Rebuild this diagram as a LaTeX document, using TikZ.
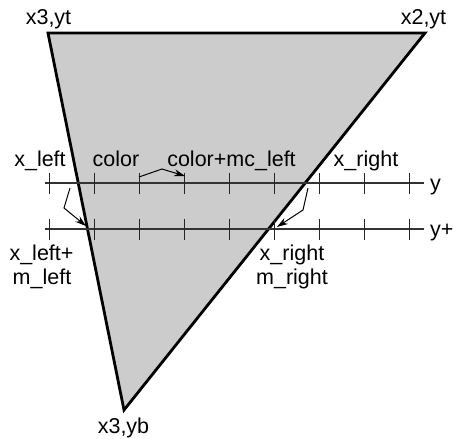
\documentclass[tikz,border=0pt]{standalone}
\usepackage{fontspec}
\setmainfont{Liberation Sans}
\usetikzlibrary{arrows.meta}
\begin{document}
\begin{tikzpicture}[x=1pt,y=-1pt,
  lbl/.style={inner sep=0pt,anchor=base,font=\fontsize{21.5}{24}\selectfont},
  axis/.style={line width=1.3pt,draw=black!80},
  tick/.style={line width=1pt,draw=black!85},
  tri/.style={line width=2.8pt,fill=black!20,line join=miter},
  arr/.style={line width=1pt,-{Stealth[length=11pt,width=7pt]}}]
\useasboundingbox (0,0) rectangle (453,439);
% triangle
\coordinate (tl) at (48,33);
\coordinate (tr) at (425,33);
\coordinate (bt) at (124,410);
\draw[tri] (tl) -- (tr) -- (bt) -- cycle;
% axes
\coordinate (ya) at (45,183);
\coordinate (yb) at (424,183);
\coordinate (pa) at (45,229);
\coordinate (pb) at (424,229);
\draw[axis] (ya) -- (yb);
\draw[axis] (pa) -- (pb);
\foreach \i in {0,...,8}{
  \draw[tick] ({49+45.1*\i},172.5) -- ({49+45.1*\i},193.5);
  \draw[tick] ({49+45.1*\i},218.5) -- ({49+45.1*\i},239.5);
}
% labels
\node[lbl] (l3t) at (48.5,24) {x3,yt};
\node[lbl] (l2t) at (423.5,24) {x2,yt};
\node[lbl] (l3b) at (123.5,433) {x3,yb};
\node[lbl] (lxl) at (40,166) {x\_left};
\node[lbl] (lc) at (116,166) {color};
\node[lbl] (lcm) at (231.5,166) {color+mc\_left};
\node[lbl] (lxr) at (366,166) {x\_right};
\node[lbl,anchor=base west] (ly) at (430,190) {y};
\node[lbl,anchor=base west] (lyp) at (430,236) {y+};
\node[lbl] (lxlp) at (41.5,260) {x\_left+};
\node[lbl] (lml) at (42,284) {m\_left};
\node[lbl] (lxr2) at (292,260) {x\_right};
\node[lbl] (lmr) at (292,284) {m\_right};
% arrows
\coordinate (a1s) at (70,188);
\coordinate (a1m) at (64,208);
\coordinate (a1e) at (86,226);
\draw[arr] (a1s) -- (a1m) -- (a1e);
\coordinate (a2s) at (308,188);
\coordinate (a2m) at (303,210);
\coordinate (a2e) at (277,227);
\draw[arr] (a2s) -- (a2m) -- (a2e);
\coordinate (a3s) at (139,177);
\coordinate (a3m) at (162,169);
\coordinate (a3e) at (185,176);
\draw[arr] (a3s) -- (a3m) -- (a3e);
\end{tikzpicture}
\end{document}
